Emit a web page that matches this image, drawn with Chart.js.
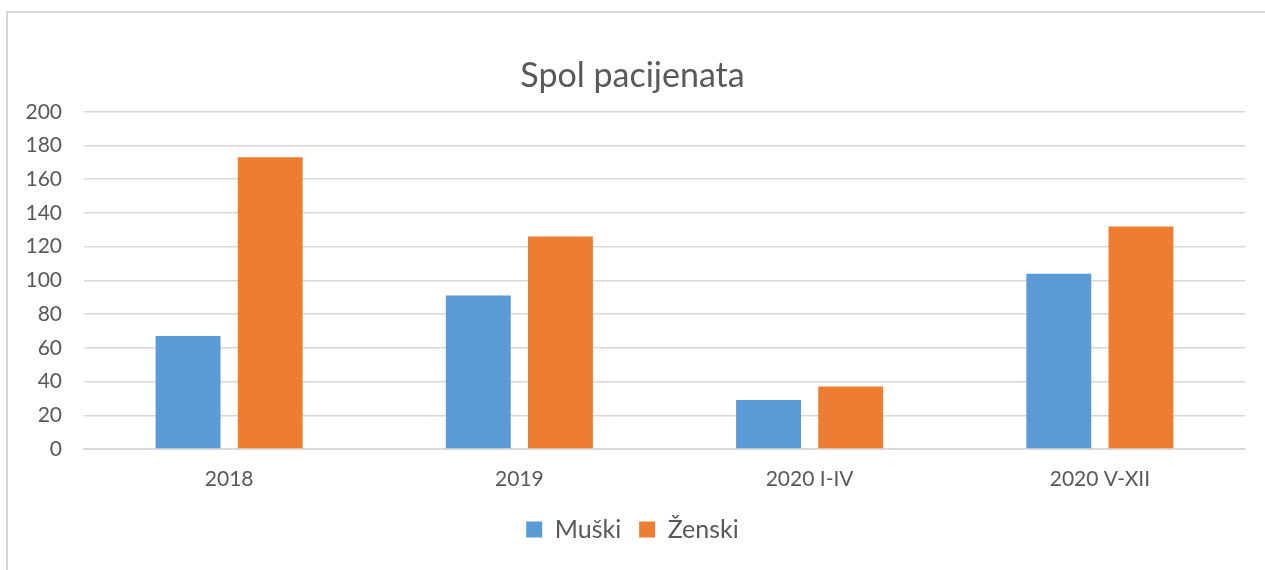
<!DOCTYPE html>
<html>
<head>
<meta charset="utf-8">
<script src="https://cdn.jsdelivr.net/npm/chart.js@4"></script>
<style>
  html, body { margin: 0; padding: 0; background: #fff; }
  #wrap { width: 1265px; height: 570px; }
</style>
</head>
<body>
<div id="wrap"><canvas id="chart1"></canvas></div>
<script>
const categories = ['2018', '2019', '2020 I-IV', '2020 V-XII'];
const muski = [67, 91, 29, 104];
const zenski = [173, 126, 37, 132];
const yTicks = [0, 20, 40, 60, 80, 100, 120, 140, 160, 180, 200];

const frame = {
    id: 'frame',
    beforeDraw(chart) {
        const ctx = chart.ctx;
        ctx.save();
        ctx.strokeStyle = '#d9d9d9';
        ctx.lineWidth = 2;
        ctx.beginPath();
        ctx.moveTo(7, 570);
        ctx.lineTo(7, 12);
        ctx.lineTo(1265, 12);
        ctx.stroke();
        ctx.restore();
    }
};

Chart.defaults.font.family = 'Lato, "Open Sans", sans-serif';
Chart.defaults.color = '#595959';

const chart1 = new Chart(document.querySelector('#chart1'), {
    type: 'bar',
    data: {
        labels: categories,
        datasets: [{
            label: 'Muški',
            data: muski,
            backgroundColor: '#5B9BD5'
        }, {
            label: 'Ženski',
            data: zenski,
            backgroundColor: '#ED7D31'
        }]
    },
    options: {
        responsive: true,
        maintainAspectRatio: false,
        animation: false,
        categoryPercentage: 0.566,
        barPercentage: 0.79,
        layout: {
            padding: { left: 20, right: 20, top: 0, bottom: 18 }
        },
        plugins: {
            title: {
                display: true,
                text: 'Spol pacijenata',
                color: '#595959',
                font: { size: 34, weight: 'normal' },
                padding: { top: 56, bottom: 15 }
            },
            legend: {
                position: 'bottom',
                labels: {
                    color: '#595959',
                    font: { size: 25 },
                    boxWidth: 16,
                    boxHeight: 16,
                    padding: 18
                }
            },
            tooltip: { enabled: false }
        },
        scales: {
            x: {
                grid: { display: false },
                border: { color: '#d9d9d9', width: 2 },
                ticks: { font: { size: 21 }, color: '#595959', padding: 10 },
                afterFit(scale) {
                    scale.height = 50;
                }
            },
            y: {
                min: 0,
                max: 200,
                afterBuildTicks(scale) {
                    scale.ticks = yTicks.map(v => ({ value: v }));
                },
                afterFit(scale) {
                    scale.width = 64;
                },
                grid: { color: '#d9d9d9', lineWidth: 1.5, drawTicks: false },
                border: { display: false },
                ticks: { font: { size: 21 }, color: '#595959', padding: 22 }
            }
        }
    },
    plugins: [frame]
});
</script>
</body>
</html>
